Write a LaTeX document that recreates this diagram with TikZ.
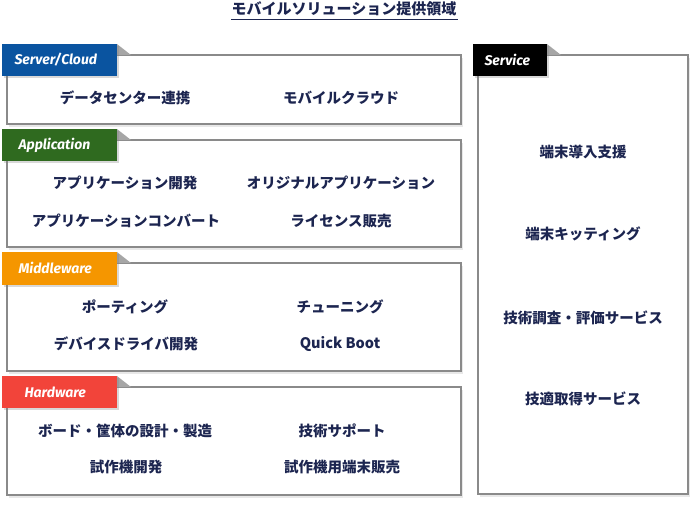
\documentclass[tikz,border=0pt]{standalone}
\usepackage{fontspec}
\newfontfamily\jp{Noto Sans CJK JP}
\newfontfamily\tabfont{Fira Sans}
\usetikzlibrary{shadows}
\definecolor{txt}{HTML}{1C2550}
\definecolor{cblue}{HTML}{0A54A0}
\definecolor{cgreen}{HTML}{2F6A1F}
\definecolor{corange}{HTML}{F59600}
\definecolor{cred}{HTML}{F2443A}
\definecolor{frame}{HTML}{8A8A8A}
\tikzset{
  x=1pt, y=-1pt,
  panel/.style={draw=frame, line width=1.6pt, fill=white,
    drop shadow={shadow xshift=2pt, shadow yshift=-3pt, opacity=0.18}},
  tabbox/.style={fill=#1,
    drop shadow={shadow xshift=1.5pt, shadow yshift=-1.5pt, opacity=0.3}},
  tablabel/.style={text=white, font=\tabfont\fontsize{14}{16}\selectfont\bfseries\itshape, anchor=west},
  fold/.style={fill=gray!70},
  item/.style={text=txt, font=\jp\fontsize{14.5}{16}\selectfont\bfseries, inner sep=0pt},
}
\begin{document}
\begin{tikzpicture}
\useasboundingbox (0,0) rectangle (700,507);
% title
\node[text=txt, font=\jp\fontsize{15}{17}\selectfont\bfseries, inner sep=0pt] (title) at (344,9) {モバイルソリューション提供領域};
\draw[txt, line width=0.8pt] (231,19) -- (458,19);

% Server/Cloud
\draw[panel] (7,55) rectangle (461,124);
\fill[fold] (117,44) -- (131,55) -- (117,55) -- cycle;
\path[tabbox=cblue] (2,44) rectangle (117,76);
\node[tablabel] (t1) at (11,60) {Server/Cloud};
\node[item] (s1) at (125,98) {データセンター連携};
\node[item] (s2) at (341,98) {モバイルクラウド};

% Application
\draw[panel] (7,140) rectangle (461,247);
\fill[fold] (117,129) -- (131,140) -- (117,140) -- cycle;
\path[tabbox=cgreen] (2,129) rectangle (117,161);
\node[tablabel] (t2) at (15,145) {Application};
\node[item] (a1) at (125,183) {アプリケーション開発};
\node[item] (a2) at (341,183) {オリジナルアプリケーション};
\node[item] (a3) at (126,221) {アプリケーションコンバート};
\node[item] (a4) at (341,221) {ライセンス販売};

% Middleware
\draw[panel] (7,263) rectangle (461,371);
\fill[fold] (117,252) -- (131,263) -- (117,263) -- cycle;
\path[tabbox=corange] (2,252) rectangle (117,285);
\node[tablabel] (t3) at (15,268) {Middleware};
\node[item] (m1) at (125,307) {ポーティング};
\node[item] (m2) at (340,307) {チューニング};
\node[item] (m3) at (126,344) {デバイスドライバ開発};
\node[item] (m4) at (340,344) {Quick Boot};

% Hardware
\draw[panel] (7,387) rectangle (461,495);
\fill[fold] (117,376) -- (131,387) -- (117,387) -- cycle;
\path[tabbox=cred] (2,376) rectangle (117,408);
\node[tablabel] (t4) at (21,392) {Hardware};
\node[item] (h1) at (125,431) {ボード・筐体の設計・製造};
\node[item] (h2) at (342,431) {技術サポート};
\node[item] (h3) at (126,467) {試作機開発};
\node[item] (h4) at (342,467) {試作機用端末販売};

% Service
\draw[panel] (478,55) rectangle (688,494);
\fill[fold] (547,44) -- (561,55) -- (547,55) -- cycle;
\path[tabbox=black] (473,44) rectangle (547,76);
\node[tablabel] (t5) at (481,60) {Service};
\node[item] (v1) at (583,152) {端末導入支援};
\node[item] (v2) at (583,234) {端末キッティング};
\node[item] (v3) at (583,318) {技術調査・評価サービス};
\node[item] (v4) at (583,399) {技適取得サービス};
\end{tikzpicture}
\end{document}
